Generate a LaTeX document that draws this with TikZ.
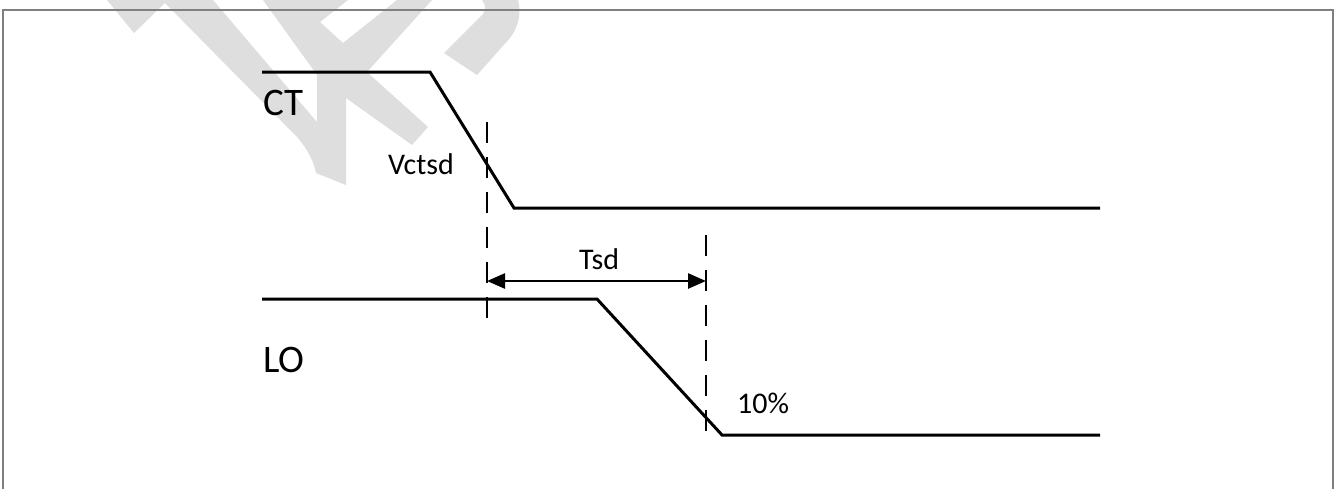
\documentclass[tikz,border=0pt]{standalone}
\usepackage{fontspec}
\setmainfont{Carlito}
\usetikzlibrary{arrows.meta}
\definecolor{wmgray}{HTML}{DEDEDE}
\definecolor{framegray}{HTML}{808080}
\begin{document}
\begin{tikzpicture}[x=1pt,y=-1pt,
  sig/.style={line width=3pt, line join=miter},
  guide/.style={line width=2.5pt, dash pattern=on 21pt off 14pt},
  dimline/.style={line width=2.5pt, {Triangle[length=18pt,width=15pt]}-{Triangle[length=18pt,width=15pt]}},
  big/.style={inner sep=0pt, anchor=base west, font=\fontsize{39}{39}\selectfont},
  small/.style={inner sep=0pt, anchor=base west, font=\fontsize{30}{30}\selectfont},
  wm/.style={fill=wmgray, draw=none}]
\useasboundingbox (0,0) rectangle (1336,488);
\clip (0,0) rectangle (1336,488);
% watermark
\fill[wm] (107,0) -- (134,33) -- (165,3) -- (298,138) .. controls (308,150) and (314,162) .. (316,173)
  -- (346,185) -- (346,98) -- (412,145) -- (428,127) -- (367,72) -- (432,0) -- (397,0) -- (343,43)
  -- (320,22) -- (348,0) -- (263,0) -- (317,75) -- (317,122) -- (213,0) -- cycle;
\fill[wm] (444,53) -- (477,75) -- (510,38) .. controls (520,25) and (521,10) .. (518,0) -- (482,0)
  .. controls (486,5) and (486,10) .. (483,14) -- cycle;
% frame
\draw[framegray, line width=2pt] (3,490) -- (3,10) -- (1333,10) -- (1333,490);
% signals
\draw[sig] (262,72) -- (430,72) -- (514,208) -- (1100,208);
\draw[sig] (262,299) -- (597,299) -- (722,435) -- (1100,435);
% guides
\coordinate (g1top) at (487,122);
\coordinate (g1bot) at (487,318);
\coordinate (g2top) at (706,235);
\coordinate (g2bot) at (706,437);
\draw[guide] (g1top) -- (g1bot);
\draw[guide] (g2top) -- (g2bot);
\coordinate (a1) at (487,281);
\coordinate (a2) at (706,281);
\draw[dimline] (a1) -- (a2);
% labels
\node[big] (ct) at (263,115) {CT};
\node[big] (lo) at (263,372) {LO};
\node[small] (vctsd) at (388,174) {Vctsd};
\node[small] (tsd) at (579,269) {Tsd};
\node[small] (pct) at (737,413) {10\%};
\end{tikzpicture}
\end{document}
